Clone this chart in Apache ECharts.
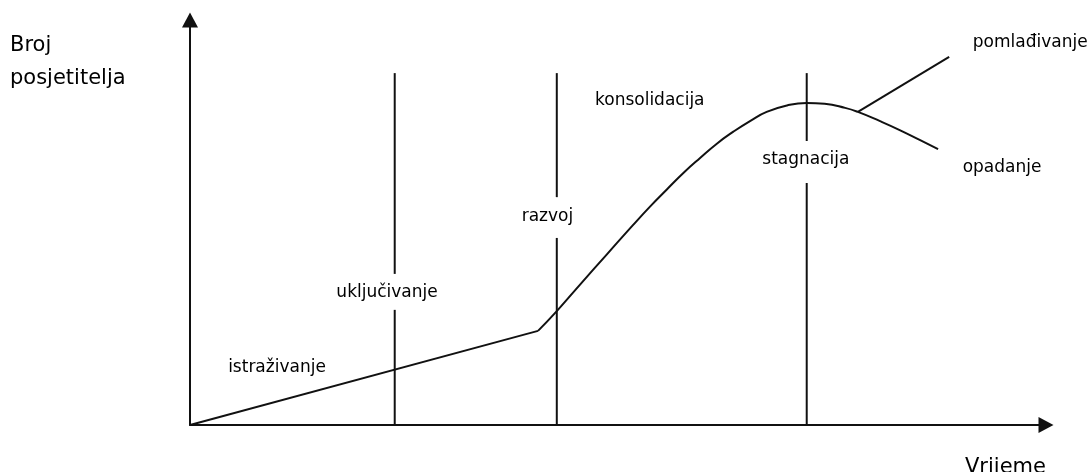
<!DOCTYPE html>
<html><head><meta charset="utf-8">
<script src="https://cdn.jsdelivr.net/npm/echarts@6/dist/echarts.min.js"></script>
<style>html,body{margin:0;padding:0;background:#fff}#c{width:1090px;height:472px}</style>
</head><body><div id="c"></div>
<script>
// Stage of tourism area life cycle (time, visitors in arbitrary units 0-100)
const exploration = [[0, 0], [40.8, 23.3]];
const growthCurve = [[40.8, 23.3], [43.0, 28.2], [45.7, 34.7], [48.9, 42.3], [51.9, 49.4], [53.9, 54.0], [55.9, 58.3], [57.9, 62.5], [59.8, 66.1], [61.8, 69.7], [63.7, 72.6], [65.7, 75.3], [67.6, 77.5], [70.0, 79.1], [72.3, 79.7], [74.4, 79.5], [76.8, 78.5], [78.3, 77.5], [80.9, 75.2], [83.2, 73.0], [85.6, 70.5], [87.7, 68.3]];
const rejuvenation = [[78.3, 77.5], [89.0, 91.1]];
// stage dividers: x position, gap bottom, gap top, line top
const dividerX = [24.0, 43.0, 72.3];
const dividerGapLow = [28.5, 46.3, 59.9];
const dividerGapHigh = [37.4, 56.4, 70.3];
const dividerTop = 87.1;
const stageNames = ['istraživanje', 'uključivanje', 'razvoj', 'konsolidacija', 'stagnacija', 'pomlađivanje', 'opadanje'];
const stageX = [10.2, 23.1, 41.9, 53.9, 72.2, 98.5, 95.2];
const stageY = [14.1, 32.7, 51.7, 80.2, 65.6, 94.6, 63.6];
const yAxisTitle = 'Broj\nposjetitelja';
const xAxisTitle = 'Vrijeme';

const lineColor = '#111';
const textColor = '#000';
const font = 'DejaVu Sans';

const series = [];
const baseLine = { type: 'line', symbol: 'none', silent: true, lineStyle: { color: lineColor, width: 2 } };
series.push(Object.assign({}, baseLine, { data: exploration }));
series.push(Object.assign({}, baseLine, { data: growthCurve, smooth: 0.5 }));
series.push(Object.assign({}, baseLine, { data: rejuvenation }));
dividerX.forEach((x, i) => {
  series.push(Object.assign({}, baseLine, { data: [[x, 0], [x, dividerGapLow[i]]] }));
  series.push(Object.assign({}, baseLine, { data: [[x, dividerGapHigh[i]], [x, dividerTop]] }));
});
series.push({
  type: 'scatter', symbolSize: 0, silent: true, itemStyle: { opacity: 1 },
  data: stageNames.map((n, i) => ({ value: [stageX[i], stageY[i]], name: n })),
  label: { show: true, position: 'inside', opacity: 1, formatter: p => p.name, color: textColor, fontSize: 17, fontFamily: font }
});

function axis(offset) {
  return {
    type: 'value', min: 0, max: 100,
    axisLine: { show: true, symbol: ['none', 'triangle'], symbolSize: [16, 15], symbolOffset: [0, offset], lineStyle: { color: lineColor, width: 2 } },
    axisTick: { show: false }, axisLabel: { show: false }, splitLine: { show: false }
  };
}

const chart = echarts.init(document.getElementById('c'), null, { renderer: 'canvas' });
chart.setOption({
  animation: false,
  backgroundColor: '#fff',
  grid: { left: 190, top: 21, right: 47, bottom: 47 },
  title: [
    { text: yAxisTitle, left: 5, top: 24, textStyle: { fontSize: 21, fontWeight: 'normal', color: textColor, fontFamily: font, lineHeight: 33 } },
    { text: xAxisTitle, left: 960, top: 452, textStyle: { fontSize: 21, fontWeight: 'normal', color: textColor, fontFamily: font } }
  ],
  xAxis: axis(3),
  yAxis: axis(1),
  series: series
});
</script></body></html>
